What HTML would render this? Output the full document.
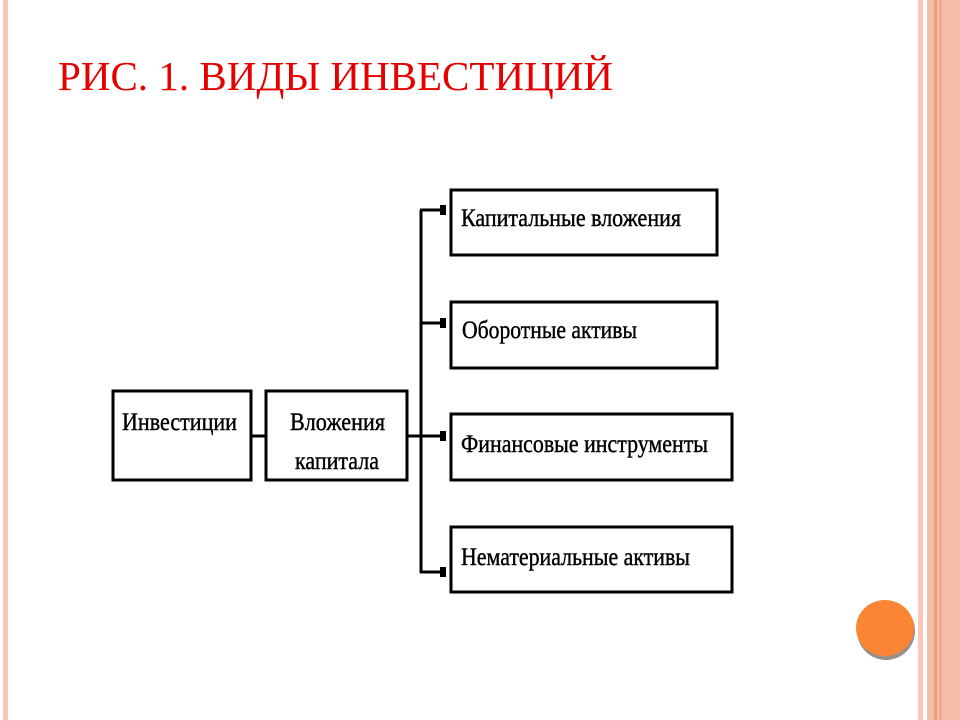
<!DOCTYPE html>
<html><head><meta charset="utf-8"><style>
html,body{margin:0;padding:0;background:#fff;width:960px;height:720px;overflow:hidden}
</style></head><body>
<svg width="960" height="720" xmlns="http://www.w3.org/2000/svg" font-family="Liberation Serif, serif">
<rect x="0" y="0" width="960" height="720" fill="#fff"/>
<rect x="3" y="0" width="5" height="720" fill="#f9c6b6"/>
<rect x="918" y="0" width="5" height="720" fill="#fbc8b7"/>
<rect x="927" y="0" width="33" height="720" fill="#f4bca9"/>
<rect x="934" y="0" width="3" height="720" fill="#ee9d80"/>
<rect x="939" y="0" width="3" height="720" fill="#f0ab93"/>
<text x="58" y="90" font-size="41" fill="#e60000" textLength="555" lengthAdjust="spacingAndGlyphs">РИС. 1. ВИДЫ ИНВЕСТИЦИЙ</text>
<g fill="#fff" stroke="#000" stroke-width="3">
<rect x="113" y="391" width="138" height="89"/>
<rect x="266" y="391" width="141" height="89"/>
<rect x="451" y="190" width="266" height="65"/>
<rect x="451" y="302" width="266" height="66"/>
<rect x="451" y="414" width="281" height="66"/>
<rect x="451" y="527" width="281" height="65"/>
</g>
<g stroke="#000" stroke-width="3" fill="none">
<line x1="251" y1="436" x2="266" y2="436"/>
<line x1="407" y1="436" x2="446" y2="436"/>
<line x1="421" y1="210" x2="421" y2="573"/>
<line x1="420" y1="210" x2="446" y2="210"/>
<line x1="420" y1="323" x2="446" y2="323"/>
<line x1="420" y1="572" x2="446" y2="572"/>
</g>
<g fill="#000">
<rect x="440" y="205" width="6" height="10"/>
<rect x="440" y="318" width="6" height="10"/>
<rect x="440" y="431" width="6" height="10"/>
<rect x="440" y="567" width="6" height="10"/>
</g>
<g font-size="25" fill="#000" stroke="#000" stroke-width="0.4">
<text x="122" y="430" textLength="115" lengthAdjust="spacingAndGlyphs">Инвестиции</text>
<text x="290" y="430" textLength="95" lengthAdjust="spacingAndGlyphs">Вложения</text>
<text x="295" y="469" textLength="84" lengthAdjust="spacingAndGlyphs">капитала</text>
<text x="461" y="226" textLength="220" lengthAdjust="spacingAndGlyphs">Капитальные вложения</text>
<text x="462" y="338" textLength="175" lengthAdjust="spacingAndGlyphs">Оборотные активы</text>
<text x="461" y="452" textLength="247" lengthAdjust="spacingAndGlyphs">Финансовые инструменты</text>
<text x="461" y="565" textLength="229" lengthAdjust="spacingAndGlyphs">Нематериальные активы</text>
</g>
<ellipse cx="886" cy="631" rx="29" ry="29" fill="#9a8f8a"/>
<ellipse cx="885" cy="628" rx="29" ry="28" fill="#fb8535"/>
</svg>
</body></html>
